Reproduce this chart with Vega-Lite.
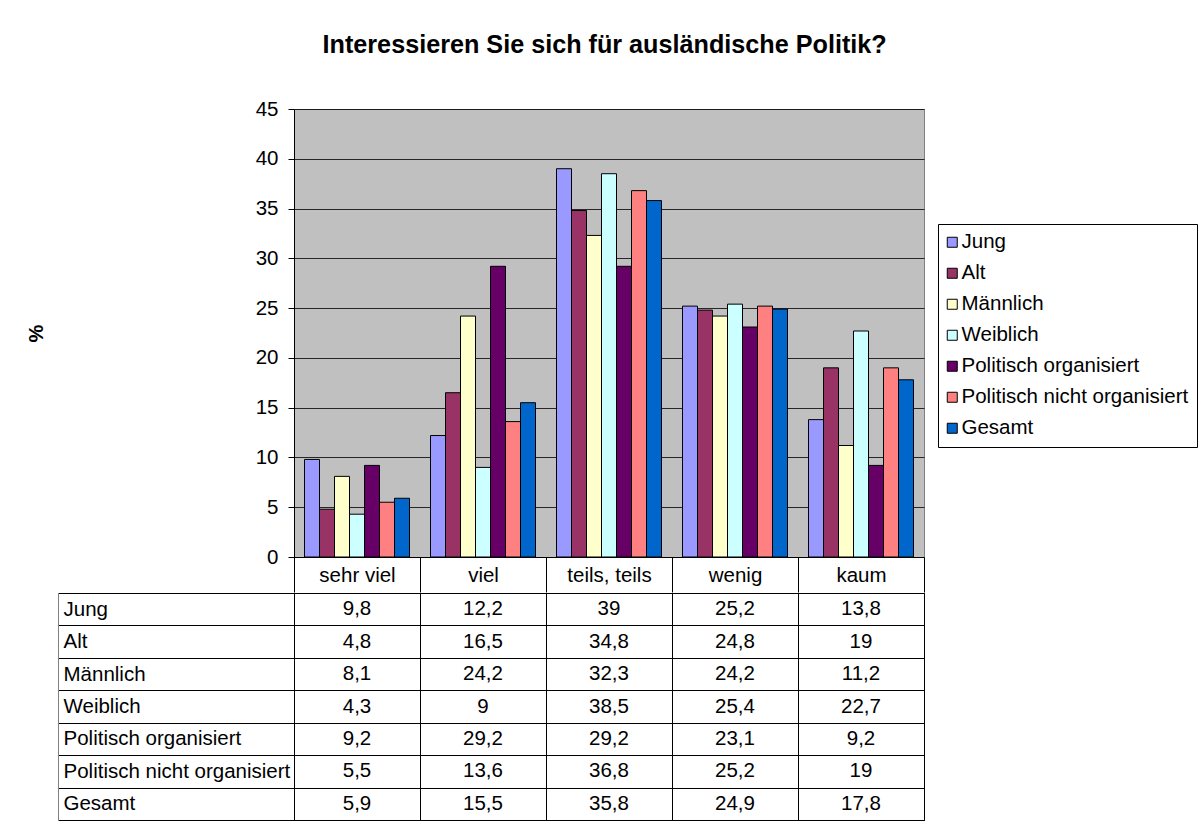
{
  "$schema": "https://vega.github.io/schema/vega-lite/v6.json",
  "padding": {"left": 25, "top": 33, "right": 0, "bottom": 0},
  "autosize": {"type": "pad"},
  "title": {"text": "Interessieren Sie sich für ausländische Politik?", "fontSize": 25.2, "fontWeight": "bold", "anchor": "middle", "offset": 40, "dx": -7, "color": "#000"},
  "config": {
    "font": "Liberation Sans",
    "locale": {"number": {"decimal": ",", "thousands": ".", "grouping": [3], "currency": ["", " €"]}},
    "axis": {"labelColor": "#000", "titleColor": "#000", "labelFontSize": 20.5, "labelFontWeight": "normal", "labelLimit": 0},
    "legend": {"labelColor": "#000", "labelFontSize": 20.5, "labelLimit": 0}
  },
  "data": {"values": [
    {"Kategorie": "sehr viel", "Gruppe": "Jung", "Wert": 9.8},
    {"Kategorie": "sehr viel", "Gruppe": "Alt", "Wert": 4.8},
    {"Kategorie": "sehr viel", "Gruppe": "Männlich", "Wert": 8.1},
    {"Kategorie": "sehr viel", "Gruppe": "Weiblich", "Wert": 4.3},
    {"Kategorie": "sehr viel", "Gruppe": "Politisch organisiert", "Wert": 9.2},
    {"Kategorie": "sehr viel", "Gruppe": "Politisch nicht organisiert", "Wert": 5.5},
    {"Kategorie": "sehr viel", "Gruppe": "Gesamt", "Wert": 5.9},
    {"Kategorie": "viel", "Gruppe": "Jung", "Wert": 12.2},
    {"Kategorie": "viel", "Gruppe": "Alt", "Wert": 16.5},
    {"Kategorie": "viel", "Gruppe": "Männlich", "Wert": 24.2},
    {"Kategorie": "viel", "Gruppe": "Weiblich", "Wert": 9},
    {"Kategorie": "viel", "Gruppe": "Politisch organisiert", "Wert": 29.2},
    {"Kategorie": "viel", "Gruppe": "Politisch nicht organisiert", "Wert": 13.6},
    {"Kategorie": "viel", "Gruppe": "Gesamt", "Wert": 15.5},
    {"Kategorie": "teils, teils", "Gruppe": "Jung", "Wert": 39},
    {"Kategorie": "teils, teils", "Gruppe": "Alt", "Wert": 34.8},
    {"Kategorie": "teils, teils", "Gruppe": "Männlich", "Wert": 32.3},
    {"Kategorie": "teils, teils", "Gruppe": "Weiblich", "Wert": 38.5},
    {"Kategorie": "teils, teils", "Gruppe": "Politisch organisiert", "Wert": 29.2},
    {"Kategorie": "teils, teils", "Gruppe": "Politisch nicht organisiert", "Wert": 36.8},
    {"Kategorie": "teils, teils", "Gruppe": "Gesamt", "Wert": 35.8},
    {"Kategorie": "wenig", "Gruppe": "Jung", "Wert": 25.2},
    {"Kategorie": "wenig", "Gruppe": "Alt", "Wert": 24.8},
    {"Kategorie": "wenig", "Gruppe": "Männlich", "Wert": 24.2},
    {"Kategorie": "wenig", "Gruppe": "Weiblich", "Wert": 25.4},
    {"Kategorie": "wenig", "Gruppe": "Politisch organisiert", "Wert": 23.1},
    {"Kategorie": "wenig", "Gruppe": "Politisch nicht organisiert", "Wert": 25.2},
    {"Kategorie": "wenig", "Gruppe": "Gesamt", "Wert": 24.9},
    {"Kategorie": "kaum", "Gruppe": "Jung", "Wert": 13.8},
    {"Kategorie": "kaum", "Gruppe": "Alt", "Wert": 19},
    {"Kategorie": "kaum", "Gruppe": "Männlich", "Wert": 11.2},
    {"Kategorie": "kaum", "Gruppe": "Weiblich", "Wert": 22.7},
    {"Kategorie": "kaum", "Gruppe": "Politisch organisiert", "Wert": 9.2},
    {"Kategorie": "kaum", "Gruppe": "Politisch nicht organisiert", "Wert": 19},
    {"Kategorie": "kaum", "Gruppe": "Gesamt", "Wert": 17.8}
  ]},
  "spacing": -11,
  "vconcat": [
    {
      "width": 630,
      "height": 448,
      "view": {"fill": "#C0C0C0", "stroke": "#808080"},
      "mark": {"type": "bar", "stroke": "#000", "strokeWidth": 1},
      "encoding": {
        "x": {
          "field": "Kategorie", "type": "nominal",
          "sort": ["sehr viel", "viel", "teils, teils", "wenig", "kaum"],
          "scale": {"paddingInner": 0, "paddingOuter": 0},
          "axis": {"title": null, "tickBand": "extent", "tickSize": 35, "tickColor": "#000", "domainColor": "#000", "labelAngle": 0, "labelBaseline": "middle", "labelPadding": -17, "grid": false}
        },
        "xOffset": {
          "field": "Gruppe", "type": "nominal",
          "sort": ["Jung", "Alt", "Männlich", "Weiblich", "Politisch organisiert", "Politisch nicht organisiert", "Gesamt"],
          "scale": {"paddingInner": 0, "paddingOuter": 0.7}
        },
        "y": {
          "field": "Wert", "type": "quantitative",
          "scale": {"domain": [0, 45], "nice": false},
          "axis": {"values": [0, 5, 10, 15, 20, 25, 30, 35, 40, 45], "title": "%", "titleFontSize": 20, "titleFontWeight": "bold", "titlePadding": 209, "grid": true, "gridColor": "#000", "gridOpacity": 0.8, "tickSize": 6, "tickColor": "#000", "domainColor": "#000", "labelPadding": 10}
        },
        "color": {
          "field": "Gruppe", "type": "nominal",
          "sort": ["Jung", "Alt", "Männlich", "Weiblich", "Politisch organisiert", "Politisch nicht organisiert", "Gesamt"],
          "scale": {
            "domain": ["Jung", "Alt", "Männlich", "Weiblich", "Politisch organisiert", "Politisch nicht organisiert", "Gesamt"],
            "range": ["#9999FF", "#993366", "#FFFFCC", "#CCFFFF", "#660066", "#FF8080", "#0066CC"]
          },
          "legend": {"orient": "none", "legendX": 644, "legendY": 115, "title": null, "strokeColor": "#000", "fillColor": "#fff", "padding": 8, "symbolType": "square", "symbolSize": 100, "symbolOffset": -4, "symbolStrokeColor": "#000", "symbolStrokeWidth": 1, "rowPadding": 10, "labelOffset": -1}
        }
      }
    },
    {
      "width": 630,
      "height": 227,
      "view": {"stroke": "#000", "fill": null},
      "mark": {"type": "text", "fontSize": 20.5, "color": "#000", "baseline": "middle"},
      "encoding": {
        "x": {
          "field": "Kategorie", "type": "nominal",
          "sort": ["sehr viel", "viel", "teils, teils", "wenig", "kaum"],
          "scale": {"paddingInner": 0, "paddingOuter": 0},
          "axis": {"title": null, "labels": false, "ticks": false, "domain": false, "grid": true, "tickBand": "extent", "gridColor": "#000", "gridOpacity": 1}
        },
        "y": {
          "field": "Gruppe", "type": "nominal",
          "sort": ["Jung", "Alt", "Männlich", "Weiblich", "Politisch organisiert", "Politisch nicht organisiert", "Gesamt"],
          "scale": {"paddingInner": 0, "paddingOuter": 0},
          "axis": {"title": null, "offset": 236, "tickSize": -236, "tickBand": "extent", "grid": true, "gridColor": "#000", "gridOpacity": 1, "tickColor": "#000", "domainColor": "#808080", "labelAlign": "left", "labelBaseline": "middle", "labelPadding": 231}
        },
        "text": {"field": "Wert", "type": "quantitative", "format": "~g"}
      }
    }
  ]
}
